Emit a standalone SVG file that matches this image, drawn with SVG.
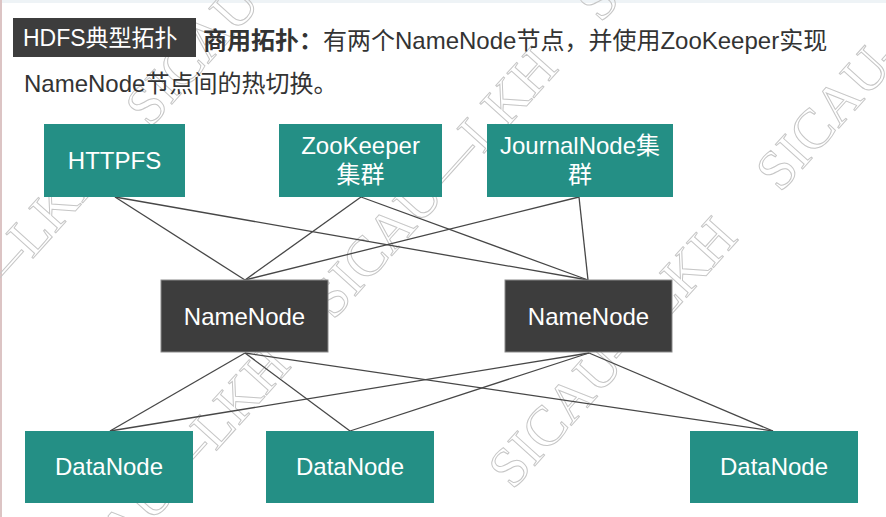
<svg xmlns="http://www.w3.org/2000/svg" width="886" height="517" viewBox="0 0 886 517">
<style>
.wm{font-family:"Liberation Serif",serif;font-size:56px;fill:none;stroke:#c6c6c6;stroke-width:1}
.teal{fill:#248f85}
.dark{fill:#3d3d3d;stroke:#8a8a8a;stroke-width:1}
.lbl{font-family:"Liberation Sans","Noto Sans CJK SC",sans-serif;font-size:24px;fill:#ffffff;text-anchor:middle}
.hd{font-family:"Liberation Sans","Noto Sans CJK SC",sans-serif;font-size:24px;fill:#333333}
.con line{stroke:#474747;stroke-width:1.3}
</style>
<rect x="0" y="0" width="886" height="517" fill="#ffffff"/>
<rect x="0" y="0" width="886" height="3" fill="#eef3f6"/>
<rect x="0" y="0" width="2" height="517" fill="#dcc4c4"/>
<g id="watermark">
<text class="wm" transform="translate(-118,426) rotate(-48)">SICAU—LKH</text>
<text class="wm" transform="translate(149.7,128.9) rotate(-48)">SICAU—LKH</text>
<text class="wm" transform="translate(65.6,618.2) rotate(-48)">SICAU—LKH</text>
<text class="wm" transform="translate(333.2,321) rotate(-48)">SICAU—LKH</text>
<text class="wm" transform="translate(600.8,23.8) rotate(-48)">SICAU—LKH</text>
<text class="wm" transform="translate(512.7,490.7) rotate(-48)">SICAU—LKH</text>
<text class="wm" transform="translate(780.3,193.6) rotate(-48)">SICAU—LKH</text>
</g>
<g id="header">
<rect x="13" y="18" width="183" height="39" fill="#3d3d3d"/>
<text x="23" y="46" style="font-family:'Liberation Sans','Noto Sans CJK SC',sans-serif;font-size:23px;fill:#ffffff">HDFS典型拓扑</text>
<text x="203" y="49" class="hd"><tspan font-weight="bold">商用拓扑：</tspan>有两个NameNode节点，并使用ZooKeeper实现</text>
<text x="24" y="92" class="hd">NameNode节点间的热切换。</text>
</g>
<g id="connectors" class="con">
<line x1="115" y1="197" x2="245" y2="280"/>
<line x1="115" y1="197" x2="588" y2="280"/>
<line x1="361" y1="197" x2="245" y2="280"/>
<line x1="361" y1="197" x2="588" y2="280"/>
<line x1="579" y1="197" x2="245" y2="280"/>
<line x1="579" y1="197" x2="588" y2="280"/>
<line x1="245" y1="353" x2="110" y2="431"/>
<line x1="245" y1="353" x2="350" y2="431"/>
<line x1="245" y1="353" x2="773" y2="431"/>
<line x1="589" y1="353" x2="110" y2="431"/>
<line x1="589" y1="353" x2="350" y2="431"/>
<line x1="589" y1="353" x2="773" y2="431"/>
</g>
<g id="httpfs">
<rect class="teal" x="44" y="124" width="141" height="73"/>
<text class="lbl" x="114.5" y="169">HTTPFS</text>
</g>
<g id="zookeeper">
<rect class="teal" x="279" y="124" width="163" height="73"/>
<text class="lbl" x="360.5" y="154">ZooKeeper</text>
<text class="lbl" x="360.5" y="183">集群</text>
</g>
<g id="journalnode">
<rect class="teal" x="487" y="124" width="186" height="73"/>
<text class="lbl" x="580" y="154">JournalNode集</text>
<text class="lbl" x="580" y="183">群</text>
</g>
<g id="namenode1">
<rect class="dark" x="161" y="280" width="167" height="72"/>
<text class="lbl" x="244.5" y="325">NameNode</text>
</g>
<g id="namenode2">
<rect class="dark" x="505" y="280" width="167" height="72"/>
<text class="lbl" x="588.5" y="325">NameNode</text>
</g>
<g id="datanode1">
<rect class="teal" x="25" y="431" width="168" height="72"/>
<text class="lbl" x="109" y="475">DataNode</text>
</g>
<g id="datanode2">
<rect class="teal" x="266" y="431" width="168" height="72"/>
<text class="lbl" x="350" y="475">DataNode</text>
</g>
<g id="datanode3">
<rect class="teal" x="690" y="431" width="168" height="72"/>
<text class="lbl" x="774" y="475">DataNode</text>
</g>
</svg>
